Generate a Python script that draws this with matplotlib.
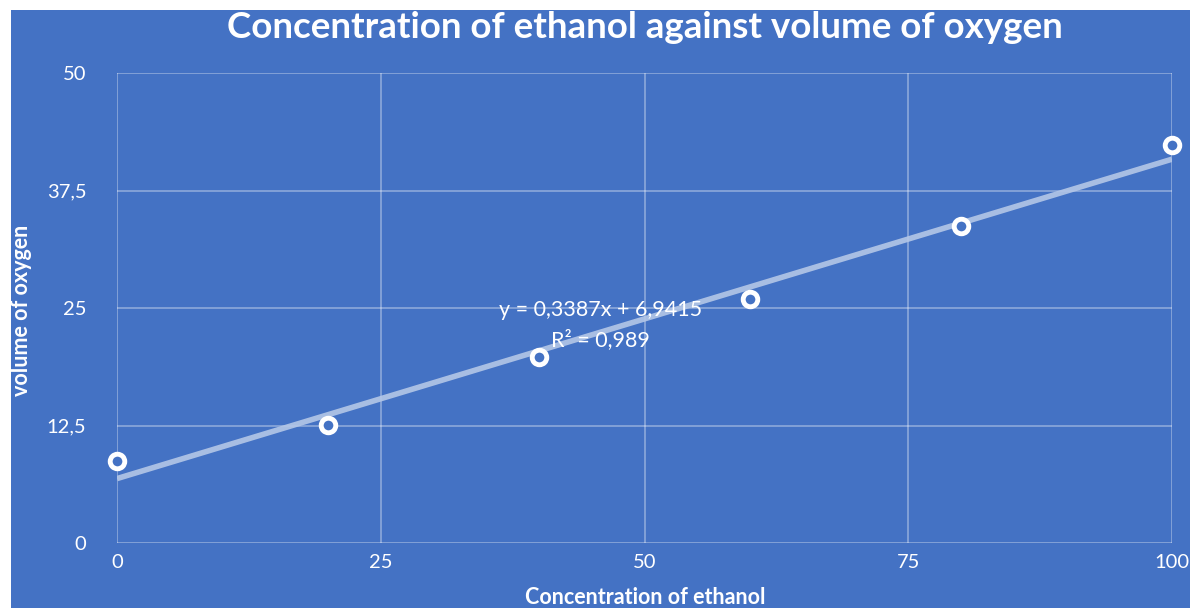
import numpy as np
import matplotlib
matplotlib.use('Agg')
import matplotlib.pyplot as plt
from matplotlib.patches import Rectangle

# data
concentration = [0, 20, 40, 60, 80, 100]
oxygen = [8.7, 12.55, 19.8, 25.95, 33.7, 42.35]
x_ticks = [0, 25, 50, 75, 100]
y_ticks = [0, 12.5, 25, 37.5, 50]
y_tick_labels = ['0', '12,5', '25', '37,5', '50']

bg = '#4472C4'
plt.rcParams['font.family'] = ['Lato', 'DejaVu Sans']

fig = plt.figure(figsize=(11.9, 6.08), dpi=100)
fig.patch.set_facecolor('white')
fig.add_artist(Rectangle((11 / 1190, 0), 1 - 11 / 1190, 1 - 10 / 608,
                         transform=fig.transFigure, facecolor=bg,
                         edgecolor='none', zorder=-5))

ax = fig.add_axes([117 / 1190, 65 / 608, 1055 / 1190, 470 / 608])
ax.set_zorder(2)
ax.set_facecolor(bg)
ax.set_xlim(0, 100)
ax.set_ylim(0, 50)
for s in ax.spines.values():
    s.set_visible(False)

ax.set_xticks(x_ticks)
ax.set_yticks(y_ticks)
ax.set_yticklabels(y_tick_labels)
ax.tick_params(colors='white', labelsize=14.5, length=0)
ax.tick_params(axis='y', pad=22)
ax.tick_params(axis='x', pad=8)
ax.grid(True, color='white', alpha=0.33, linewidth=1.4)
ax.set_axisbelow(True)

# linear trendline
slope, intercept = np.polyfit(concentration, oxygen, 1)
xs = np.array([0, 100])
ax.plot(xs, slope * xs + intercept, color='#B4C7E7', linewidth=4,
        alpha=0.9, solid_capstyle='butt', zorder=2)

ax.plot(concentration, oxygen, linestyle='none', marker='o', markersize=10.5,
        markerfacecolor=bg, markeredgecolor='white', markeredgewidth=3.5,
        clip_on=False, zorder=3)

ax.text(45.8, 24.8, 'y = 0,3387x + 6,9415', color='white', fontsize=15.5,
        ha='center', va='center')
ax.text(45.8, 21.6, 'R² = 0,989', color='white', fontsize=15.5,
        ha='center', va='center')

fig.text(645 / 1190, 1 - 28 / 608, 'Concentration of ethanol against volume of oxygen',
         color='white', fontsize=26.5, fontweight='bold', ha='center', va='center')
fig.text(645 / 1190, 1 - 597 / 608, 'Concentration of ethanol', color='white',
         fontsize=15.5, fontweight='bold', ha='center', va='center')
fig.text(22 / 1190, 1 - 310 / 608, 'volume of oxygen', color='white',
         fontsize=15.5, fontweight='bold', ha='center', va='center', rotation=90)

fig.savefig('out.png', dpi=100, facecolor=fig.get_facecolor())
